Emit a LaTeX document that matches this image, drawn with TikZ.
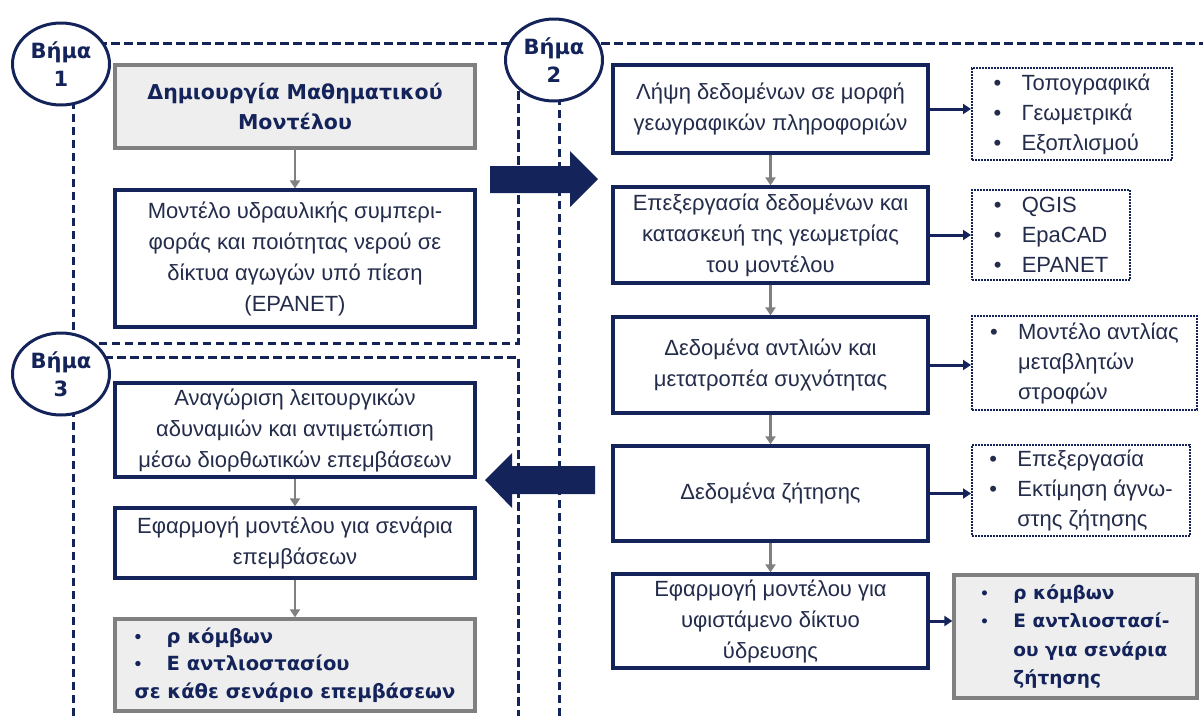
\documentclass[tikz,border=0pt]{standalone}
\usepackage{fontspec}
\setmainfont{Liberation Sans}
\newfontfamily\stepfont{DejaVu Sans}
\usetikzlibrary{arrows.meta,shapes.geometric}

\definecolor{stepNavy}{HTML}{14245A}
\definecolor{boxGrey}{HTML}{808080}
\definecolor{fillGrey}{HTML}{EEEEEE}
\definecolor{textSlate}{HTML}{232C4A}

\newcommand{\bul}{\makebox[28pt][l]{•}}
\newcommand{\listcont}{\hspace*{28pt}}
\newcommand{\boldbul}{\makebox[32pt][l]{\normalfont•}}
\newcommand{\boldcont}{\hspace*{32pt}}

\begin{document}
\begin{tikzpicture}[x=1pt, y=-1pt,
	stepcircle/.style={ellipse, draw=stepNavy, line width=3pt, fill=white, minimum width=97pt, minimum height=82pt, inner sep=0pt, align=center, text=stepNavy, font=\stepfont\bfseries\fontsize{21}{28}\selectfont},
	frameline/.style={draw=stepNavy, line width=3pt, dash pattern=on 8.5pt off 4.5pt},
	mainbox/.style={draw=stepNavy, line width=3.2pt, fill=white, align=center, inner sep=0pt, text=textSlate, font=\fontsize{22}{31}\selectfont},
	titlebox/.style={mainbox, draw=boxGrey, fill=fillGrey, text=stepNavy, font=\stepfont\bfseries\fontsize{20.5}{30}\selectfont},
	listbox/.style={draw=stepNavy, line width=2pt, dash pattern=on 1.6pt off 1.4pt, fill=white, align=left, inner sep=0pt, text=textSlate, font=\fontsize{22}{30}\selectfont},
	flow/.style={draw=boxGrey, line width=2.2pt, -{Triangle[length=8pt,width=10pt]}},
	feed/.style={draw=stepNavy, line width=3pt, -{Triangle[length=8pt,width=10pt]}}]

	\def\colL{295}
	\def\colR{770.5}
	\def\wL{360pt}
	\def\wR{315pt}
	\def\frameTop{43}

	\useasboundingbox (0,0) rectangle (1203,716);

	% Dashed frames
	\draw[frameline] (73,343) -- (73,\frameTop) -- (518,\frameTop) -- (518,343) -- cycle;
	\draw[frameline] (559,716) -- (559,\frameTop) -- (1203,\frameTop);
	\draw[frameline] (73,716) -- (73,357) -- (518,357) -- (518,716);

	% Big arrows between the steps
	\fill[stepNavy] (490,166) -- (570,166) -- (570,151) -- (598,179) -- (570,207) -- (570,193) -- (490,193) -- cycle;
	\fill[stepNavy] (595,466) -- (512,466) -- (512,453) -- (485,480) -- (512,508) -- (512,494) -- (595,494) -- cycle;

	% Step circles
	\node[stepcircle] (step1) at (61,64) {Βήμα\\1};
	\node[stepcircle] (step2) at (554,60) {Βήμα\\2};
	\node[stepcircle] (step3) at (61,374) {Βήμα\\3};

	% Step 1 boxes
	\node[titlebox, minimum width=\wL, minimum height=83pt] (model) at (\colL,106.5) {Δημιουργία Μαθηματικού\\Μοντέλου};
	\node[mainbox, minimum width=\wL, minimum height=137pt] (epanet) at (\colL,258.5)
		{Μοντέλο υδραυλικής συμπερι-\\φοράς και ποιότητας νερού σε\\δίκτυα αγωγών υπό πίεση\\(EPANET)};

	% Step 3 boxes
	\node[mainbox, minimum width=\wL, minimum height=94pt] (weak) at (\colL,430)
		{Αναγώριση λειτουργικών\\αδυναμιών και αντιμετώπιση\\μέσω διορθωτικών επεμβάσεων};
	\node[mainbox, minimum width=\wL, minimum height=70pt] (scen) at (\colL,543)
		{Εφαρμογή μοντέλου για σενάρια\\επεμβάσεων};
	\node[titlebox, align=left, font=\stepfont\bfseries\fontsize{19.5}{27.5}\selectfont, minimum width=\wL, minimum height=92pt] (resL) at (\colL,665)
		{\boldbul ρ κόμβων\\\boldbul Ε αντλιοστασίου\\σε κάθε σενάριο επεμβάσεων};

	% Step 2 boxes
	\node[mainbox, minimum width=\wR, minimum height=88pt] (gis) at (\colR,109)
		{Λήψη δεδομένων σε μορφή\\γεωγραφικών πληροφοριών};
	\node[mainbox, minimum width=\wR, minimum height=96pt] (geom) at (\colR,235)
		{Επεξεργασία δεδομένων και\\κατασκευή της γεωμετρίας\\του μοντέλου};
	\node[mainbox, minimum width=\wR, minimum height=96pt] (pump) at (\colR,365)
		{Δεδομένα αντλιών και\\μετατροπέα συχνότητας};
	\node[mainbox, minimum width=\wR, minimum height=95pt] (demand) at (\colR,493.5)
		{Δεδομένα ζήτησης};
	\node[mainbox, minimum width=\wR, minimum height=94pt] (apply) at (\colR,621)
		{Εφαρμογή μοντέλου για\\υφιστάμενο δίκτυο\\ύδρευσης};

	% Step 2 lists
	\node[listbox, minimum width=200pt, minimum height=92pt] (gisList) at (1072,114)
		{\bul Τοπογραφικά\\\bul Γεωμετρικά\\\bul Εξοπλισμού};
	\node[listbox, minimum width=158pt, minimum height=90pt] (geomList) at (1051,235)
		{\bul QGIS\\\bul EpaCAD\\\bul EPANET};
	\node[listbox, minimum width=225pt, minimum height=94pt] (pumpList) at (1084.5,363)
		{\bul Μοντέλο αντλίας\\\listcont μεταβλητών\\\listcont στροφών};
	\node[listbox, minimum width=218pt, minimum height=91pt] (demandList) at (1081,490.5)
		{\bul Επεξεργασία\\\bul Εκτίμηση άγνω-\\\listcont στης ζήτησης};
	\node[titlebox, align=left, font=\stepfont\bfseries\fontsize{18.5}{28.5}\selectfont, minimum width=243pt, minimum height=123pt] (resR) at (1075.5,636.5)
		{\boldbul ρ κόμβων\\\boldbul Ε αντλιοστασί-\\\boldcont ου για σενάρια\\\boldcont ζήτησης};

	% Flow inside the steps
	\foreach \a/\b in {model/epanet, weak/scen, scen/resL, gis/geom, geom/pump, pump/demand, demand/apply}
		\draw[flow] (\a) -- (\b);

	% Boxes to their lists
	\foreach \a/\b in {gis/gisList, geom/geomList, pump/pumpList, demand/demandList, apply/resR}
		\draw[feed] (\a.east) -- (\a.east -| \b.west);

\end{tikzpicture}
\end{document}
